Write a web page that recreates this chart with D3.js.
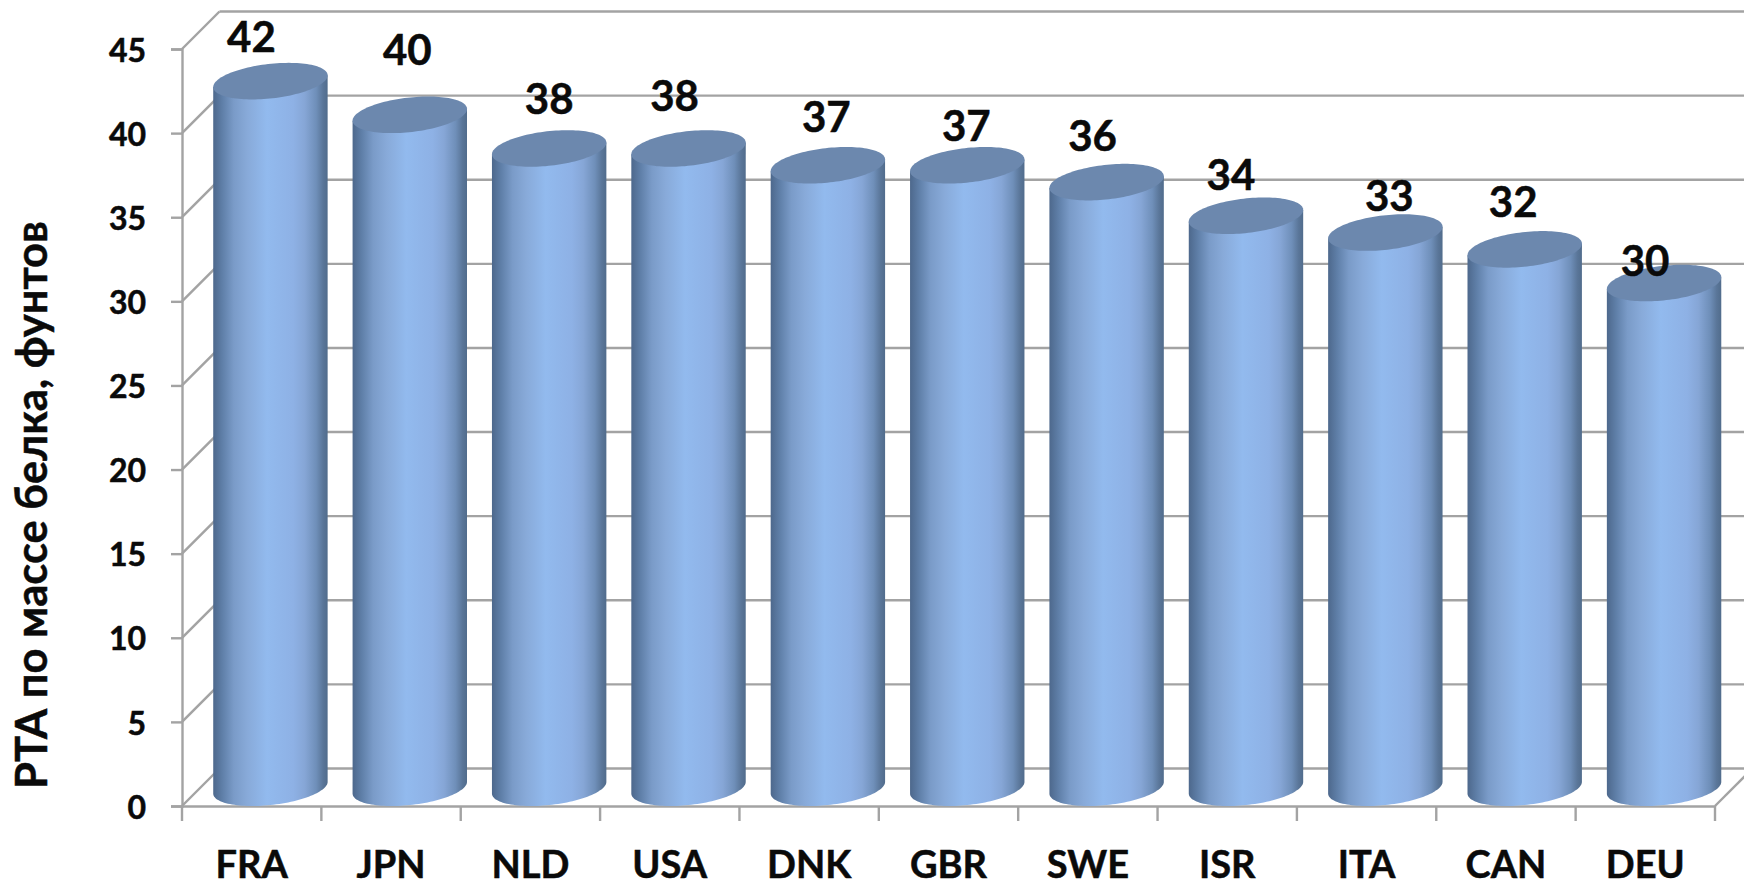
<!DOCTYPE html>
<html lang="ru">
<head>
<meta charset="utf-8">
<title>РТА по массе белка</title>
<script src="https://cdn.jsdelivr.net/npm/d3@7/dist/d3.min.js"></script>
<style>
  html, body { margin: 0; padding: 0; background: #fff; overflow: hidden; }
  svg { display: block; }
  text { font-family: Lato, "Open Sans", sans-serif; font-weight: 700; fill: #0a0a0a; stroke: #0a0a0a; stroke-width: 0.5px; }
</style>
</head>
<body>
<svg id="chart" width="1744" height="887"></svg>
<script>
// Chart values
const countries = ["FRA", "JPN", "NLD", "USA", "DNK", "GBR", "SWE", "ISR", "ITA", "CAN", "DEU"];
const ptaValues = [42, 40, 38, 38, 37, 37, 36, 34, 33, 32, 30];
const yTicks = [0, 5, 10, 15, 20, 25, 30, 35, 40, 45];
const yAxisTitle = "РТА по массе белка, фунтов";

// Hand placement of each value label, relative to the centre of its cylinder top
const labelNudgeX = [-19, -2.5, 0, -14, -1.6, -1, -14, -15, 4, -11.5, -19];
const labelNudgeY = [-44, -65, -49.5, -52.5, -48, -39, -46, -40, -36, -47.5, -22];

// Plot frame and oblique depth of the 3D box
const frame = { left: 182, right: 1715, bottom: 806, top: 49 };
const depth = 37.5;
const radiusX = 54.2;
const radiusDepth = 18.3;
const gridColor = "#a3a3a3";

const svg = d3.select("#chart");

const x = d3.scaleBand().domain(countries).range([frame.left, frame.right]);
const y = d3.scaleLinear().domain([0, 45]).range([frame.bottom, frame.top]);

// Shared shading across each cylinder body
const defs = svg.append("defs");
const bodyShade = defs.append("linearGradient")
  .attr("id", "bodyShade").attr("x1", 0).attr("x2", 1).attr("y1", 0).attr("y2", 0);
[[0, "#4d688c"], [0.08, "#5f7fa8"], [0.18, "#7a9bc8"], [0.3, "#88aad9"],
 [0.47, "#92baee"], [0.7, "#8eb1e5"], [0.8, "#86a6d6"], [0.9, "#6f8fb9"], [0.96, "#5a7699"], [1, "#516c8c"]]
  .forEach(([offset, color]) => bodyShade.append("stop").attr("offset", offset).attr("stop-color", color));

// Back wall gridlines
svg.append("g").selectAll("line").data(yTicks).join("line")
  .attr("x1", frame.left + depth).attr("x2", frame.right + depth)
  .attr("y1", d => y(d) - depth).attr("y2", d => y(d) - depth)
  .attr("stroke", gridColor).attr("stroke-width", 2.4);

// Left wall diagonals
svg.append("g").selectAll("line").data(yTicks).join("line")
  .attr("x1", frame.left).attr("x2", frame.left + depth)
  .attr("y1", d => y(d)).attr("y2", d => y(d) - depth)
  .attr("stroke", gridColor).attr("stroke-width", 2.4);

// Right edge of the floor
svg.append("line")
  .attr("x1", frame.right).attr("x2", frame.right + depth)
  .attr("y1", y(0)).attr("y2", y(0) - depth)
  .attr("stroke", gridColor).attr("stroke-width", 2.4);

// Value axis
const yAxis = svg.append("g")
  .attr("transform", `translate(${frame.left},0)`)
  .call(d3.axisLeft(y).tickValues(yTicks).tickSize(11).tickPadding(25).tickFormat(d3.format("d")));
yAxis.selectAll("path, line").attr("stroke", gridColor).attr("stroke-width", 2.4);
yAxis.selectAll("text").attr("font-size", 32).attr("dy", "0.38em");

// Category axis: labels centred in the band, ticks on band edges
const xAxis = svg.append("g")
  .attr("transform", `translate(0,${frame.bottom})`)
  .call(d3.axisBottom(x).tickSize(0).tickPadding(59));
xAxis.select("path").attr("stroke", gridColor).attr("stroke-width", 2.4);
xAxis.selectAll("text").attr("font-size", 38).attr("dy", "0.34em");
svg.append("g").selectAll("line").data(d3.range(countries.length + 1)).join("line")
  .attr("x1", i => frame.left + i * x.step()).attr("x2", i => frame.left + i * x.step())
  .attr("y1", frame.bottom).attr("y2", frame.bottom + 15)
  .attr("stroke", gridColor).attr("stroke-width", 2.4);

// Cylinder geometry: a floor circle sheared along the depth direction
const centerX = name => x(name) + x.bandwidth() / 2 + depth / 2;
const centerY = value => y(value) - radiusDepth;
const extremeAngle = Math.atan2(radiusDepth, radiusX);

const ellipsePoint = (cx, cy, t) => [
  cx + radiusX * Math.cos(t) + radiusDepth * Math.sin(t),
  cy - radiusDepth * Math.sin(t)
];

function bodyPath(name, value) {
  const cx = centerX(name);
  const top = centerY(value);
  const base = centerY(0);
  // Front half of the base runs from the left extreme round to the right extreme
  const arc = d3.range(0, 61).map(k => {
    const t = Math.PI + extremeAngle + (k / 60) * Math.PI;
    return ellipsePoint(cx, base, t);
  });
  const topRight = ellipsePoint(cx, top, extremeAngle);
  const topLeft = ellipsePoint(cx, top, Math.PI + extremeAngle);
  return d3.line()([topLeft, ...arc, topRight]) + "Z";
}

function capPath(name, value) {
  const cx = centerX(name);
  const cy = centerY(value);
  return d3.line()(d3.range(0, 120).map(k => ellipsePoint(cx, cy, (k / 120) * 2 * Math.PI))) + "Z";
}

const rows = countries.map((name, i) => ({ name, value: ptaValues[i], i }));

const bars = svg.append("g").selectAll("g").data(rows).join("g");
bars.append("path").attr("d", d => bodyPath(d.name, d.value)).attr("fill", "url(#bodyShade)");
bars.append("path").attr("d", d => capPath(d.name, d.value)).attr("fill", "#6c88ae");

// Value labels
svg.append("g").selectAll("text").data(rows).join("text")
  .attr("x", d => centerX(d.name) + labelNudgeX[d.i])
  .attr("y", d => centerY(d.value) + labelNudgeY[d.i])
  .attr("dy", "0.35em")
  .attr("text-anchor", "middle")
  .attr("font-size", 42)
  .text(d => d.value);

// Axis title
svg.append("text")
  .attr("transform", "translate(47,505) rotate(-90)")
  .attr("text-anchor", "middle")
  .attr("font-size", 43.5)
  .text(yAxisTitle);
</script>
</body>
</html>
